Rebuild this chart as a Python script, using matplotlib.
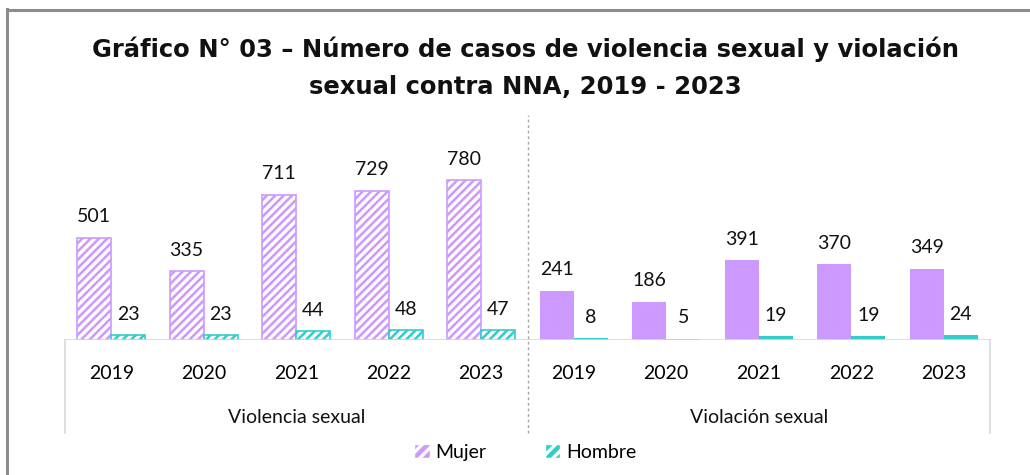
import matplotlib
matplotlib.use('Agg')
import matplotlib.pyplot as plt
from matplotlib.patches import Patch
from matplotlib.lines import Line2D
import numpy as np

# Casos por tipo de violencia y año
groups = ['Violencia sexual', 'Violación sexual']
years = ['2019', '2020', '2021', '2022', '2023']
mujer = [501, 335, 711, 729, 780, 241, 186, 391, 370, 349]
hombre = [23, 23, 44, 48, 47, 8, 5, 19, 19, 24]

purple = '#CC99FF'
teal = '#33CCCC'
num_font = 'Lato'

plt.rcParams['hatch.linewidth'] = 2.4

fig = plt.figure(figsize=(10.3, 4.75), dpi=100)
ax = fig.add_axes([65 / 1030, 135 / 475, 925 / 1030, 225 / 475])

x = np.arange(len(mujer))
w = 0.37
hatched = [i < len(years) for i in x]

for i in x:
    for xpos, val, col in [(i - w / 2, mujer[i], purple), (i + w / 2, hombre[i], teal)]:
        if hatched[i]:
            ax.bar(xpos, val, w, color=col, edgecolor='white', hatch='////', linewidth=0)
            ax.bar(xpos, val, w, fill=False, edgecolor=col, linewidth=1.2)
        else:
            ax.bar(xpos, val, w, color=col, linewidth=0)
        ax.annotate(str(val), (xpos, val), xytext=(0, 9), textcoords='offset points',
                    ha='center', va='bottom', fontsize=14, family=num_font, color='#111111')

ax.set_xlim(-0.5, len(mujer) - 0.5)
ax.set_ylim(0, 1100)
for s in ax.spines.values():
    s.set_visible(False)
ax.set_yticks([])
ax.set_xticks(x)
ax.set_xticklabels(years * len(groups), fontsize=14, family=num_font)
ax.tick_params(axis='x', length=0, pad=18)

# Ejes de categorías bajo la base
low = -455
grid = '#D9D9D9'
ax.axhline(0, color=grid, lw=1.2)
for xv in [-0.5, len(mujer) - 0.5]:
    ax.plot([xv, xv], [0, low], color=grid, lw=1.2, clip_on=False)
ax.plot([4.5, 4.5], [low, 1100], color='#A6A6A6', lw=1.0, ls=(0, (2, 2)), clip_on=False)

for g, name in enumerate(groups):
    ax.annotate(name, (g * len(years) + 2, 0), xytext=(0, -56), textcoords='offset points',
                ha='center', va='center', fontsize=14, family=num_font, color='#111111',
                annotation_clip=False)

fig.text(0.51, 0.857, 'Gráfico N° 03 – Número de casos de violencia sexual y violación\nsexual contra NNA, 2019 - 2023',
         ha='center', va='center', fontsize=17.5, fontweight='bold', family='DejaVu Sans',
         linespacing=1.65, color='#111111')

handles = [Patch(facecolor=purple, edgecolor='white', hatch='///', label='Mujer'),
           Patch(facecolor=teal, edgecolor='white', hatch='///', label='Hombre')]
fig.legend(handles=handles, loc='center', bbox_to_anchor=(0.51, 0.048), ncol=2, frameon=False,
           prop={'family': num_font, 'size': 14}, handlelength=0.8, handleheight=0.8,
           handletextpad=0.3, columnspacing=3.0)

# Marco exterior
border = '#8C8C8C'
fig.add_artist(Line2D([7 / 1030, 7 / 1030], [0, 1 - 9 / 475], color=border, lw=2.2))
fig.add_artist(Line2D([7 / 1030, 1], [1 - 10 / 475, 1 - 10 / 475], color=border, lw=2.2))

fig.savefig('out.png', dpi=100)
